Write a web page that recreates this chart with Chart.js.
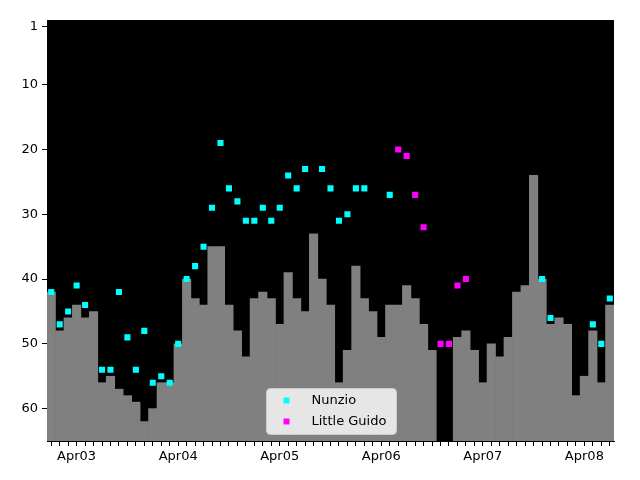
<!DOCTYPE html>
<html><head><meta charset="utf-8">
<script src="https://cdn.jsdelivr.net/npm/chart.js@4/dist/chart.umd.min.js"></script>
<style>html,body{margin:0;padding:0;background:#fff;}canvas{display:block;}</style>
</head><body>
<canvas id="c" width="640" height="480"></canvas>
<script>
// Monthly categories Jan 2003 .. Jul 2008
const months = [
 '2003-01','2003-02','2003-03','2003-04','2003-05','2003-06','2003-07','2003-08','2003-09','2003-10','2003-11','2003-12',
 '2004-01','2004-02','2004-03','2004-04','2004-05','2004-06','2004-07','2004-08','2004-09','2004-10','2004-11','2004-12',
 '2005-01','2005-02','2005-03','2005-04','2005-05','2005-06','2005-07','2005-08','2005-09','2005-10','2005-11','2005-12',
 '2006-01','2006-02','2006-03','2006-04','2006-05','2006-06','2006-07','2006-08','2006-09','2006-10','2006-11','2006-12',
 '2007-01','2007-02','2007-03','2007-04','2007-05','2007-06','2007-07','2007-08','2007-09','2007-10','2007-11','2007-12',
 '2008-01','2008-02','2008-03','2008-04','2008-05','2008-06','2008-07'
];
// Grey bars (best rank of the month)
const rankBars = [
 42,48,46,44,46,45,56,55,57,58,59,62,
 60,56,56,50,40,43,44,35,35,44,48,52,
 43,42,43,47,39,43,45,33,40,44,56,51,
 38,43,45,49,44,44,41,43,47,51,null,null,
 49,48,51,56,50,52,49,42,41,24,40,47,
 46,47,58,55,48,56,44
];
const nunzio = [
 42,47,45,41,44,null,54,54,42,49,54,48,
 56,55,56,50,40,38,35,29,19,26,28,31,
 31,29,31,29,24,26,23,null,23,26,31,30,
 26,26,null,null,27,null,null,null,null,null,null,null,
 null,null,null,null,null,null,null,null,null,null,40,46,
 null,null,null,null,47,50,43
];
const littleGuido = [
 null,null,null,null,null,null,null,null,null,null,null,null,
 null,null,null,null,null,null,null,null,null,null,null,null,
 null,null,null,null,null,null,null,null,null,null,null,null,
 null,null,null,null,null,20,21,27,32,null,50,50,
 41,40,null,null,null,null,null,null,null,null,null,null,
 null,null,null,null,null,null,null
];
const seriesNames = ['Nunzio','Little Guido'];
const yTicks = [1,10,20,30,40,50,60];
const aprilMonths = ['2003-04','2004-04','2005-04','2006-04','2007-04','2008-04'];
const xTickLabels = ['Apr03','Apr04','Apr05','Apr06','Apr07','Apr08'];

const FONT = "'DejaVu Sans', sans-serif";

const bgPlugin = {
  id: 'bg',
  beforeDraw(chart) {
    const {ctx, chartArea: a} = chart;
    ctx.save();
    ctx.fillStyle = '#000';
    ctx.fillRect(a.left, a.top, a.right - a.left, a.bottom - a.top);
    ctx.restore();
  }
};

const legendPlugin = {
  id: 'boxLegend',
  afterDraw(chart) {
    const {ctx, chartArea: a} = chart;
    const w = 130, h = 46;
    const x = Math.round((a.left + a.right) / 2 - w / 2) + 0.5;
    const y = Math.round(a.bottom - 7 - h) + 0.5;
    ctx.save();
    ctx.beginPath();
    ctx.roundRect(x, y, w, h, 4);
    ctx.fillStyle = 'rgba(255,255,255,0.8)';
    ctx.fill();
    ctx.strokeStyle = '#cccccc';
    ctx.lineWidth = 1;
    ctx.stroke();
    const ds = chart.data.datasets.filter(d => d.type === 'line');
    ds.forEach((d, i) => {
      const cy = y + 12 + i * 21;
      ctx.fillStyle = d.backgroundColor;
      ctx.fillRect(x + 17, cy - 3, 6, 6);
      ctx.fillStyle = '#000';
      ctx.font = '13px ' + FONT;
      ctx.textBaseline = 'middle';
      ctx.textAlign = 'left';
      ctx.fillText(d.label, x + 45, cy);
    });
    ctx.restore();
  }
};

new Chart(document.getElementById('c'), {
  data: {
    labels: months,
    datasets: [
      {
        type: 'line', label: seriesNames[0], data: nunzio, showLine: false,
        pointStyle: 'rect', pointRadius: 4.3, pointBorderWidth: 0,
        backgroundColor: '#00ffff', borderColor: '#00ffff', order: 1
      },
      {
        type: 'line', label: seriesNames[1], data: littleGuido, showLine: false,
        pointStyle: 'rect', pointRadius: 4.3, pointBorderWidth: 0,
        backgroundColor: '#ff00ff', borderColor: '#ff00ff', order: 1
      },
      {
        type: 'bar', label: 'rank', data: rankBars, base: 65,
        backgroundColor: '#808080', borderWidth: 0,
        barPercentage: 1, categoryPercentage: 1, order: 2
      }
    ]
  },
  options: {
    responsive: false,
    animation: false,
    layout: { padding: { top: 20, right: 26, left: 0, bottom: 0 } },
    plugins: { legend: { display: false }, tooltip: { enabled: false } },
    scales: {
      x: {
        type: 'category',
        offset: true,
        grid: { display: true, drawOnChartArea: false, offset: false, tickLength: 5, color: '#000', tickColor: '#000' },
        border: { display: true, color: '#000', width: 1 },
        ticks: {
          autoSkip: false, maxRotation: 0, minRotation: 0, padding: 3,
          color: '#000', font: { family: FONT, size: 13 },
          callback: function(v, i) {
            const k = aprilMonths.indexOf(months[i]);
            return k >= 0 ? xTickLabels[k] : '';
          }
        },
        afterFit(s) { s.height = 39; }
      },
      y: {
        type: 'linear',
        reverse: true,
        min: 0, max: 65,
        grid: { display: true, drawOnChartArea: false, tickLength: 5, color: '#000', tickColor: '#000' },
        border: { display: true, color: '#000', width: 1 },
        ticks: { color: '#000', font: { family: FONT, size: 13 }, padding: 4 },
        afterBuildTicks(s) { s.ticks = yTicks.map(v => ({ value: v })); },
        afterFit(s) { s.width = 47; }
      }
    }
  },
  plugins: [bgPlugin, legendPlugin]
});
</script>
</body></html>
